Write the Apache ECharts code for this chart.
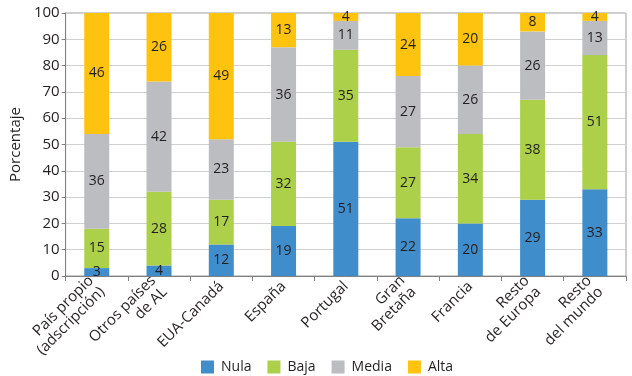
<!DOCTYPE html>
<html>
<head>
<meta charset="utf-8">
<script src="https://cdn.jsdelivr.net/npm/echarts@6/dist/echarts.min.js"></script>
<style>
	* { margin: 0; padding: 0; }
	#chart { width: 632px; height: 376px; }
</style>
</head>
<body>
<div id="chart"></div>
<script>
	var categories = ['País propio\n(adscripción)', 'Otros países\nde AL', 'EUA-Canadá', 'España', 'Portugal', 'Gran\nBretaña', 'Francia', 'Resto\nde Europa', 'Resto\ndel mundo'];
	var nula = [3, 4, 12, 19, 51, 22, 20, 29, 33];
	var baja = [15, 28, 17, 32, 35, 27, 34, 38, 51];
	var media = [36, 42, 23, 36, 11, 27, 26, 26, 13];
	var alta = [46, 26, 49, 13, 4, 24, 20, 8, 4];
	var yTicks = [0, 10, 20, 30, 40, 50, 60, 70, 80, 90, 100];

	var font = '"Open Sans", "Noto Sans", sans-serif';
	var colors = ['#3f8dcb', '#add04a', '#bcbdc0', '#fdc30f'];

	function serie(name, data, i) {
		return {
			name: name,
			type: 'bar',
			stack: 'total',
			barWidth: 25,
			data: data,
			itemStyle: { color: colors[i] },
			label: {
				show: true,
				position: 'inside',
				color: '#231f20',
				fontFamily: font,
				fontSize: 14
			}
		};
	}

	var chart = echarts.init(document.getElementById('chart'));
	chart.setOption({
		animation: false,
		textStyle: { fontFamily: font },
		legend: {
			top: 355,
			left: 196,
			itemWidth: 13,
			itemHeight: 13,
			itemGap: 16,
			icon: 'rect',
			textStyle: { fontSize: 14, color: '#231f20', fontFamily: font, padding: [0, 0, 0, 2] },
			data: ['Nula', 'Baja', 'Media', 'Alta']
		},
		grid: {
			left: 54,
			right: 6,
			top: 13,
			bottom: 100,
			show: true,
			borderColor: '#9d9d9d',
			borderWidth: 1
		},
		xAxis: {
			type: 'category',
			data: categories,
			axisLine: { lineStyle: { color: '#808080' } },
			axisTick: { show: true, length: 5, lineStyle: { color: '#808080' } },
			axisLabel: {
				rotate: 45,
				interval: 0,
				color: '#231f20',
				fontSize: 15,
				lineHeight: 16,
				fontFamily: font,
				margin: 8
			}
		},
		yAxis: {
			type: 'value',
			min: 0,
			max: 100,
			interval: 10,
			name: 'Porcentaje',
			nameLocation: 'middle',
			nameGap: 42,
			nameTextStyle: { fontSize: 15, color: '#231f20', fontFamily: font },
			axisLine: { show: true, lineStyle: { color: '#808080' } },
			axisTick: { show: true, length: 4, lineStyle: { color: '#808080' } },
			axisLabel: {
				color: '#231f20',
				fontSize: 15,
				fontFamily: font,
				margin: 6,
				formatter: function (v) { return yTicks.indexOf(v) >= 0 ? String(v) : ''; }
			},
			splitLine: { lineStyle: { color: '#d0d0d0' } }
		},
		series: [
			serie('Nula', nula, 0),
			serie('Baja', baja, 1),
			serie('Media', media, 2),
			serie('Alta', alta, 3)
		]
	});
</script>
</body>
</html>
